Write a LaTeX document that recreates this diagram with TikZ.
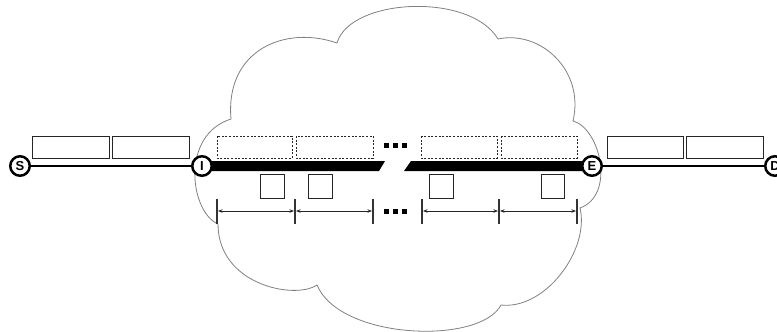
\documentclass[tikz,border=0pt]{standalone}
\usepackage{fontspec}
\setmainfont{Liberation Sans}
\usetikzlibrary{arrows.meta}
\begin{document}
\begin{tikzpicture}[x=1pt,y=-1pt,
  endpt/.style={circle,draw=black,fill=white,line width=2.5pt,minimum size=19.5pt,inner sep=0pt,font=\fontsize{13}{13}\selectfont\bfseries},
  pkt/.style={draw=black!85,line width=0.9pt},
  dpkt/.style={draw=black!85,line width=0.9pt,dash pattern=on 2pt off 1.6pt},
  sq/.style={draw=black!85,line width=0.9pt},
  tick/.style={draw=black!80,line width=1.4pt},
  dim/.style={draw=black!85,line width=0.8pt,{Stealth[length=4.5pt,width=3.5pt]}-{Stealth[length=4.5pt,width=3.5pt]}},
  dotsq/.style={fill=black},
  cloudline/.style={draw=black!50,line width=0.8pt,fill=white},
  link/.style={draw=black,line width=2pt}]
\useasboundingbox (0,0) rectangle (777,332);
% cloud
\path[cloudline] (337,43)
  .. controls (350,-2) and (470,-8) .. (498,39)
  .. controls (540,30) and (585,70) .. (573,121)
  .. controls (600,128) and (616,195) .. (580,208)
  .. controls (590,250) and (545,310) .. (501,305)
  .. controls (480,345) and (340,340) .. (317,285)
  .. controls (295,300) and (218,285) .. (218,224)
  .. controls (190,212) and (180,135) .. (231,119)
  .. controls (225,50) and (285,25) .. (337,43) -- cycle;
% thick bars
\fill (202,161) -- (385,161) -- (379,171) -- (202,171) -- cycle;
\fill (411,161) -- (592,161) -- (592,171) -- (404,171) -- cycle;
% end points
\node[endpt] (S) at (20,166) {S};
\node[endpt] (I) at (202,166) {I};
\node[endpt] (E) at (592,166) {E};
\node[endpt] (D) at (775,166) {D};
% links outside
\draw[link] (S) -- (I);
\draw[link] (E) -- (D);
% outside packets
\draw[pkt] (32,136) rectangle (109,158);
\draw[pkt] (112,136) rectangle (189,158);
\draw[pkt] (607,136) rectangle (683,158);
\draw[pkt] (686,136) rectangle (763,158);
% dashed packets
\draw[dpkt] (217,136) rectangle (292,158);
\draw[dpkt] (296,136) rectangle (373,158);
\draw[dpkt] (421,136) rectangle (497,158);
\draw[dpkt] (501,136) rectangle (577,158);
% dots
\foreach \xx in {384,393,402}{
  \fill[dotsq] (\xx,143) rectangle (\xx+5,148);
  \fill[dotsq] (\xx,209) rectangle (\xx+5,214);
}
% small squares
\draw[sq] (260,174) rectangle (284,198);
\draw[sq] (308,174) rectangle (332,198);
\draw[sq] (429,174) rectangle (453,198);
\draw[sq] (541,174) rectangle (564,198);
% ticks
\foreach \xx in {217,295,373,422,499,577}{
  \draw[tick] (\xx,199) -- (\xx,224);
}
% dimension arrows
\coordinate (t1) at (217,211);
\coordinate (t2) at (295,211);
\coordinate (t3) at (373,211);
\coordinate (t4) at (422,211);
\coordinate (t5) at (499,211);
\coordinate (t6) at (577,211);
\draw[dim] ([xshift=1pt]t1) -- ([xshift=-1pt]t2);
\draw[dim] ([xshift=1pt]t2) -- ([xshift=-1pt]t3);
\draw[dim] ([xshift=1pt]t4) -- ([xshift=-1pt]t5);
\draw[dim] ([xshift=1pt]t5) -- ([xshift=-1pt]t6);
\end{tikzpicture}
\end{document}
